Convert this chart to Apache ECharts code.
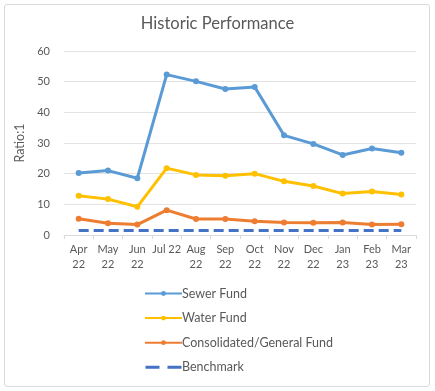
<!DOCTYPE html>
<html><head><meta charset="utf-8">
<script src="https://cdn.jsdelivr.net/npm/echarts@6/dist/echarts.min.js"></script>
<style>html,body{margin:0;padding:0;background:#fff}#frame{position:absolute;left:4px;top:4px;width:424px;height:381px;border:1px solid #d9d9d9;border-radius:3px}#c{position:absolute;left:0;top:0;width:435px;height:391px}</style>
</head><body><div id="frame"></div><div id="c"></div>
<script>
const categories = ['Apr\n22','May\n22','Jun\n22','Jul 22','Aug\n22','Sep\n22','Oct\n22','Nov\n22','Dec\n22','Jan\n23','Feb\n23','Mar\n23'];
const sewerFund = [20.2, 21.0, 18.5, 52.3, 50.1, 47.6, 48.3, 32.5, 29.7, 26.1, 28.2, 26.8];
const waterFund = [12.8, 11.7, 9.2, 21.8, 19.6, 19.3, 20.0, 17.5, 16.0, 13.5, 14.2, 13.2];
const generalFund = [5.3, 3.8, 3.4, 8.1, 5.2, 5.2, 4.5, 4.1, 4.0, 4.1, 3.4, 3.5];
const benchmark = [1.5, 1.5, 1.5, 1.5, 1.5, 1.5, 1.5, 1.5, 1.5, 1.5, 1.5, 1.5];
const yTicks = {min: 0, max: 60, interval: 10};
const FONT = 'Lato';
const TXT = '#595959';
const chart = echarts.init(document.getElementById('c'), null, {renderer: 'canvas'});
function lineSeries(name, data, color, dashed) {
  return {
    name, type: 'line', data,
    symbol: dashed ? 'none' : 'circle', symbolSize: 6,
    showSymbol: !dashed,
    lineStyle: {color, width: 3, type: dashed ? [10, 5] : 'solid'},
    itemStyle: {color},
    emphasis: {disabled: true},
    animation: false
  };
}
const dashIcon = 'path://M0,0h0.05v0.05h-0.05z M0,1.5h14v3h-14z M22,1.5h14v3h-14z M35.95,5.95h0.05v0.05h-0.05z';
chart.setOption({
  animation: false,
  textStyle: {fontFamily: FONT},
  title: {text: 'Historic Performance', left: 'center', top: 10,
    textStyle: {fontFamily: FONT, fontSize: 16.5, fontWeight: 'normal', color: TXT}},
  grid: {left: 64, right: 19, top: 51, bottom: 156},
  xAxis: {
    type: 'category', data: categories, boundaryGap: true,
    axisLine: {lineStyle: {color: '#d9d9d9'}},
    axisTick: {show: true, length: 4, lineStyle: {color: '#d9d9d9'}},
    axisLabel: {color: TXT, fontSize: 11, fontFamily: FONT, interval: 0, lineHeight: 15, margin: 7}
  },
  yAxis: {
    type: 'value', min: yTicks.min, max: yTicks.max, interval: yTicks.interval,
    name: 'Ratio:1', nameLocation: 'middle', nameGap: 35, nameRotate: 90,
    nameTextStyle: {color: TXT, fontSize: 12.5, fontFamily: FONT},
    axisLine: {show: false}, axisTick: {show: false},
    axisLabel: {color: TXT, fontSize: 11, fontFamily: FONT, margin: 14},
    splitLine: {lineStyle: {color: '#e3e3e3'}}
  },
  legend: {
    orient: 'vertical', left: 144, top: 287, height: 100, padding: 0, itemGap: 11.6,
    itemWidth: 37, itemHeight: 6,
    textStyle: {color: TXT, fontSize: 12.5, fontFamily: FONT, padding: [0,0,0,-5]},
    data: ['Sewer Fund', 'Water Fund', 'Consolidated/General Fund',
      {name: 'Benchmark', icon: dashIcon, itemStyle: {color: '#4472C4'}}]
  },
  series: [
    lineSeries('Sewer Fund', sewerFund, '#5B9BD5', false),
    lineSeries('Water Fund', waterFund, '#FFC000', false),
    lineSeries('Consolidated/General Fund', generalFund, '#ED7D31', false),
    lineSeries('Benchmark', benchmark, '#4472C4', true)
  ]
});
</script></body></html>
